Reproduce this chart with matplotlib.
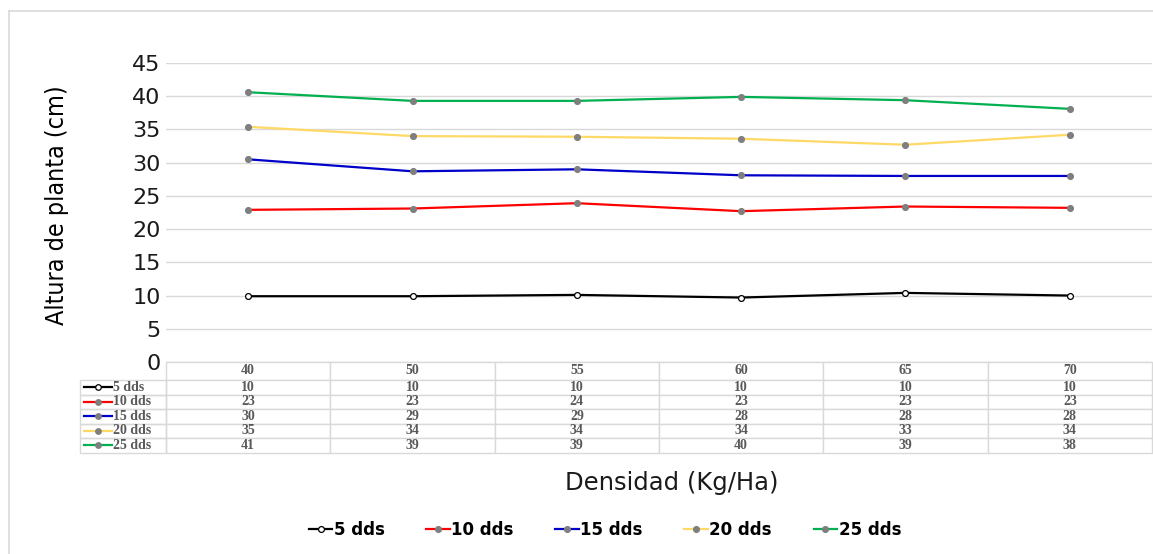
import numpy as np
import matplotlib
matplotlib.use("Agg")
import matplotlib.pyplot as plt
from matplotlib.lines import Line2D
from matplotlib.patches import Rectangle

# densidad de siembra (Kg/Ha) y altura de planta por fecha (dds)
densidad = ["40", "50", "55", "60", "65", "70"]
series = ["5 dds", "10 dds", "15 dds", "20 dds", "25 dds"]
h5 = [9.9, 9.9, 10.1, 9.7, 10.4, 10.0]
h10 = [22.9, 23.1, 23.9, 22.7, 23.4, 23.2]
h15 = [30.5, 28.7, 29.0, 28.1, 28.0, 28.0]
h20 = [35.4, 34.0, 33.9, 33.6, 32.7, 34.2]
h25 = [40.6, 39.3, 39.3, 39.9, 39.4, 38.1]
yticks = [0, 5, 10, 15, 20, 25, 30, 35, 40, 45]

colores = ["#000000", "#ff0000", "#0000c8", "#ffd966", "#00b050"]
caras = ["white", "#7f7f7f", "#7f7f7f", "#7f7f7f", "#7f7f7f"]
alturas = [h5, h10, h15, h20, h25]

W, H = 1153, 554
fig = plt.figure(figsize=(W / 100, H / 100), dpi=100)

# marco gris del grafico
fig.add_artist(Line2D([9 / W, 9 / W], [0, 1 - 11 / H], color="#d9d9d9", lw=1.2))
fig.add_artist(Line2D([9 / W, 1], [1 - 11 / H, 1 - 11 / H], color="#d9d9d9", lw=1.2))

x0, x1 = 166, 1152
ytop, ybot = 63, 362
ax = fig.add_axes([x0 / W, (H - ybot) / H, (x1 - x0) / W, (ybot - ytop) / H])

x = np.arange(len(densidad))
for nombre, y, c, fc in zip(series, alturas, colores, caras):
    ax.plot(x, y, color=c, lw=1.6, marker="o", ms=4.2, mfc=fc, mec=c if fc == "white" else fc,
            mew=0.9, label=nombre, zorder=3)

ax.set_xlim(-0.5, len(densidad) - 0.5)
ax.set_ylim(0, 45)
ax.set_yticks(yticks)
ax.set_xticks([])
ax.grid(axis="y", color="#d9d9d9", lw=1)
ax.set_axisbelow(True)
for s in ax.spines.values():
    s.set_visible(False)
ax.tick_params(axis="y", length=0, pad=4, labelsize=16, labelcolor="#1a1a1a")

ax.set_ylabel("Altura de planta (cm)", fontsize=18, family="DejaVu Sans",
              fontstretch="condensed")
ax.yaxis.set_label_coords(-0.098, 0.525)

# tabla de datos debajo del eje
ax_h = ybot - ytop
ax_w = x1 - x0
lab_w = 86
head_h, row_h = 18, 14.5
tab_h = head_h + row_h * len(series)
celdas = [["{:.0f}".format(v) for v in y] for y in alturas]
tab = ax.table(cellText=celdas, colLabels=densidad, cellLoc="center",
               bbox=[0, -tab_h / ax_h, 1, tab_h / ax_h])
tab.auto_set_font_size(False)
for (r, c), cell in tab.get_celld().items():
    cell.set_edgecolor("#d9d9d9")
    cell.set_linewidth(1)
    cell.set_height(head_h if r == 0 else row_h)
    cell.get_text().set_fontsize(10)
    cell.get_text().set_fontfamily("Liberation Serif")
    cell.get_text().set_fontweight("bold")
    cell.get_text().set_color("#595959")

# columna de etiquetas con claves de linea
for i, (nombre, c, fc) in enumerate(zip(series, colores, caras)):
    yb = -(head_h + row_h * (i + 1)) / ax_h
    yc = yb + row_h / 2 / ax_h
    ax.add_patch(Rectangle((-lab_w / ax_w, yb), lab_w / ax_w, row_h / ax_h, transform=ax.transAxes,
                           fill=False, edgecolor="#d9d9d9", lw=1, clip_on=False))
    kx = np.array([84, 112]) - x0
    ax.plot(kx / ax_w, [yc, yc], transform=ax.transAxes, clip_on=False, color=c, lw=1.6, zorder=5)
    ax.plot([kx.mean() / ax_w], [yc], transform=ax.transAxes, clip_on=False, marker="o", ms=4,
            mfc=fc, mec=c if fc == "white" else fc, mew=0.9, zorder=6)
    ax.text((113 - x0) / ax_w, yc, nombre, transform=ax.transAxes, ha="left", va="center",
            fontsize=10, family="Liberation Serif", weight="bold", color="#595959")

fig.text(672 / W, 1 - 483 / H, "Densidad (Kg/Ha)", ha="center", va="center",
         fontsize=17.5, color="#1a1a1a")

handles, labels = ax.get_legend_handles_labels()
fig.legend(handles, labels, loc="center", bbox_to_anchor=(605 / W, 1 - 530 / H), ncol=5,
           frameon=False, handlelength=1.4, handletextpad=0.1, columnspacing=2.5,
           prop={"size": 12, "weight": "bold"})

fig.savefig("out.png", dpi=100)
